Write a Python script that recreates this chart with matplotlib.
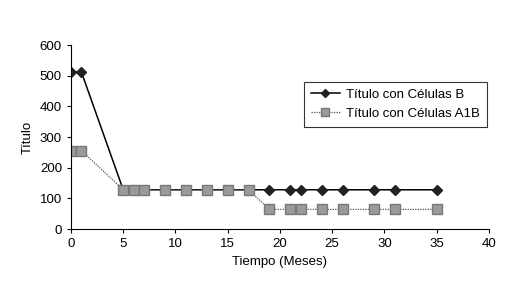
import matplotlib.pyplot as plt

# ---------- datos ----------
meses = [0, 1, 5, 6, 7, 9, 11, 13, 15, 17, 19, 21, 22, 24, 26, 29, 31, 35]
titulo_b = [512, 512, 128, 128, 128, 128, 128, 128, 128, 128,
            128, 128, 128, 128, 128, 128, 128, 128]
titulo_a1b = [256, 256, 128, 128, 128, 128, 128, 128, 128, 128,
              64, 64, 64, 64, 64, 64, 64, 64]

plt.rcParams['font.family'] = ['Liberation Sans', 'DejaVu Sans']
plt.rcParams['font.size'] = 9.5

fig = plt.figure(figsize=(5.2, 2.91), dpi=100)
ax = fig.add_axes([0.1365, 0.213, 0.8035, 0.632])

ax.plot(meses, titulo_b, color="black", linewidth=1.1, marker="D",
        markersize=5, markerfacecolor="#222222", markeredgecolor="#222222",
        label="Título con Células B")
ax.plot(meses, titulo_a1b, color="#555555", linewidth=0.9, linestyle=(0, (1, 1)),
        marker="s", markersize=6.5, markerfacecolor="#9a9a9a",
        markeredgecolor="#777777", label="Título con Células A1B")

ax.set_xlim(0, 40)
ax.set_ylim(0, 600)
ax.set_xticks(range(0, 41, 5))
ax.set_yticks(range(0, 601, 100))
ax.spines["top"].set_visible(False)
ax.spines["right"].set_visible(False)
ax.tick_params(direction="out", length=3, width=0.8)
ax.set_xlabel("Tiempo (Meses)", labelpad=4)
ax.set_ylabel("Título", labelpad=4)

leg = ax.legend(loc="upper left", bbox_to_anchor=(0.572, 0.742),
                bbox_transform=fig.transFigure, frameon=True, fancybox=False,
                edgecolor="black", borderpad=0.5, handlelength=2.2,
                labelspacing=0.55, markerscale=0.8, handletextpad=0.5)
leg.get_frame().set_linewidth(0.8)

fig.savefig("out.png", dpi=100)
